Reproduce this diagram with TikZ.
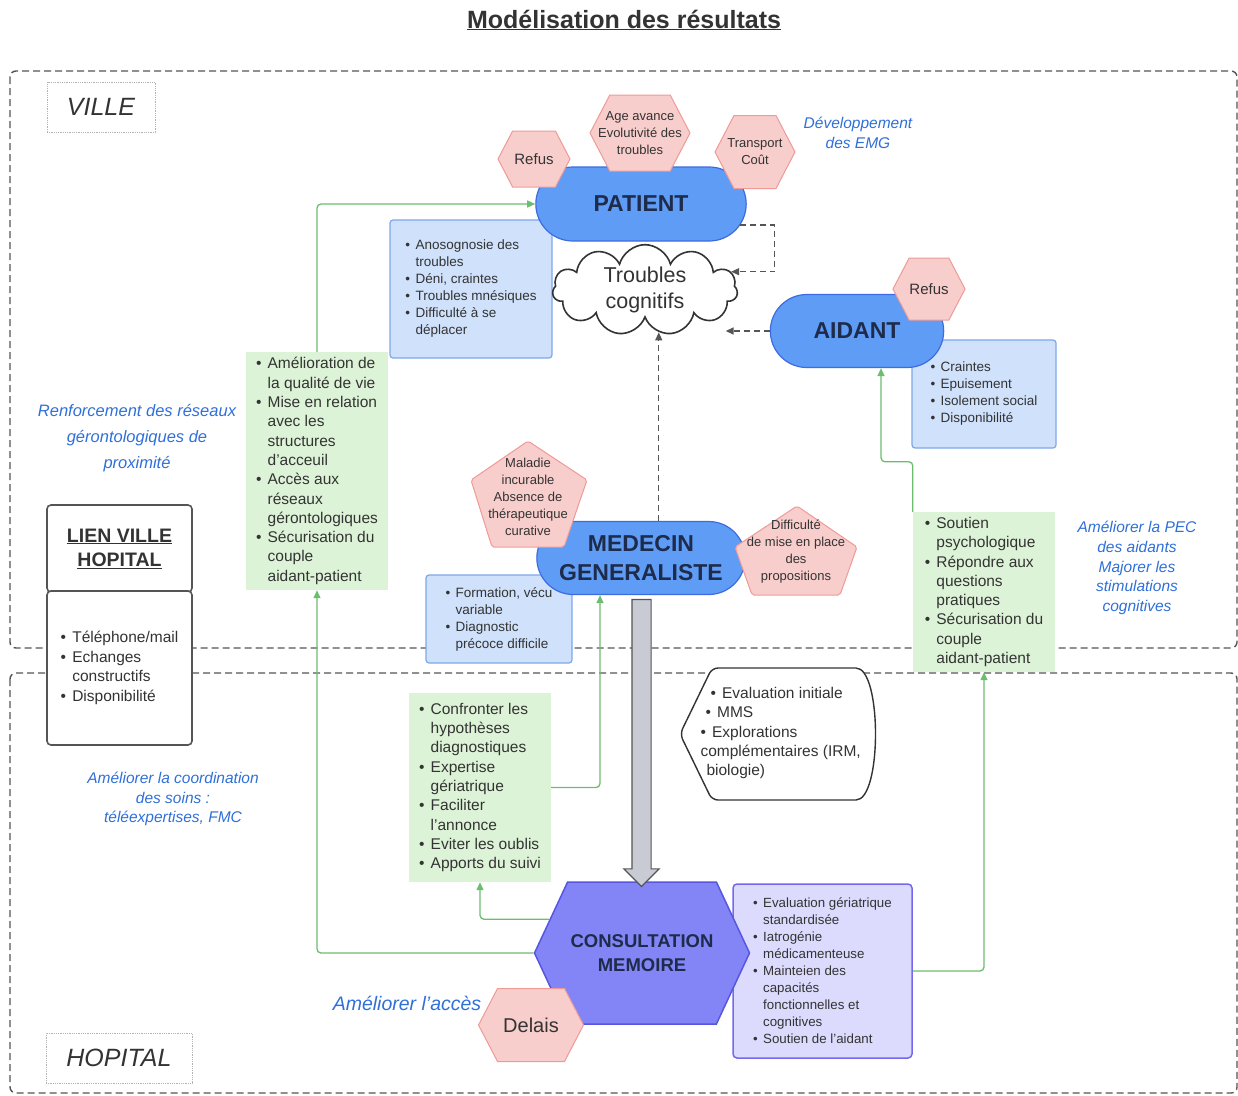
\documentclass[tikz,border=0pt]{standalone}
\usepackage{fontspec}
\setmainfont{Liberation Sans}
\usepackage{tikz}
\usetikzlibrary{arrows.meta,calc,shapes.misc,shapes.symbols,shapes.arrows}
\usepackage{xcolor}

\definecolor{ink}{HTML}{333333}
\definecolor{navy}{HTML}{1E2B4A}
\definecolor{frame}{HTML}{555555}
\definecolor{pinkfill}{HTML}{F8CECC}
\definecolor{pinkline}{HTML}{EE9A97}
\definecolor{actorfill}{HTML}{5E9CF6}
\definecolor{actorline}{HTML}{3E6BE0}
\definecolor{boxblue}{HTML}{CFE1FB}
\definecolor{boxblueline}{HTML}{7DA7E8}
\definecolor{greenfill}{HTML}{DDF3D7}
\definecolor{greenline}{HTML}{6CBD6F}
\definecolor{hexpurple}{HTML}{8385F6}
\definecolor{hexpurpleline}{HTML}{5656E0}
\definecolor{purplefill}{HTML}{DCDBFD}
\definecolor{purpleline}{HTML}{7468EE}
\definecolor{noteblue}{HTML}{2F6FD8}
\definecolor{arrowgray}{HTML}{C8CAD4}

\newcommand{\itm}{\makebox[0.75em][l]{\textbullet}}
\newcommand{\cnt}{\hspace*{0.75em}}

\begin{document}
\begin{tikzpicture}[x=1pt,y=-1pt,>={Triangle[length=8pt,width=7pt]},
  font=\fontsize{13.5}{17}\selectfont,every node/.style={text=ink},
  zone/.style={draw=frame,line width=1.4pt,dash pattern=on 7pt off 4pt,rounded corners=6pt},
  tag/.style={draw=gray!60,densely dotted,line width=0.8pt,minimum height=50pt,font=\fontsize{25}{30}\selectfont\itshape},
  actor/.style={rounded rectangle,draw=actorline,fill=actorfill,line width=1.2pt,text=navy,font=\fontsize{23}{29}\selectfont\bfseries,align=center},
  hexa/.style={signal,signal to=east and west,signal pointer angle=125,draw=pinkline,fill=pinkfill,line width=1pt,inner sep=0pt},
  pent/.style={draw=pinkline,fill=pinkfill,line width=1pt,rounded corners=2pt},
  small/.style={align=center,font=\fontsize{13}{17}\selectfont},
  bluebox/.style={draw=boxblueline,fill=boxblue,line width=1.2pt,rounded corners=3pt,align=left},
  greenbox/.style={fill=greenfill,align=left,font=\fontsize{15.5}{19.3}\selectfont},
  purplebox/.style={draw=purpleline,fill=purplefill,line width=1.5pt,rounded corners=4pt,align=left,font=\fontsize{13.3}{17}\selectfont},
  lien/.style={draw=frame,line width=1.6pt,rounded corners=4pt,fill=white,minimum width=145pt},
  note/.style={text=noteblue,align=center,font=\fontsize{15.5}{19.6}\selectfont\itshape},
  greenarr/.style={->,draw=greenline,line width=1.3pt,rounded corners=4pt},
  dasharr/.style={->,draw=frame,line width=1.4pt,dash pattern=on 6pt off 4pt},
  blockarr/.style={single arrow,draw=frame,fill=arrowgray,line width=1.2pt,inner xsep=0pt,inner ysep=9pt,single arrow head extend=8pt}]
\useasboundingbox (0,0) rectangle (1238,1095);

% title and zones
\node[font=\fontsize{25}{30}\selectfont\bfseries] (title) at (624,20) {\underline{Modélisation des résultats}};
\draw[zone] (10,71) rectangle (1237,648);
\draw[zone] (10,673) rectangle (1237,1093);
\node[tag,minimum width=108pt] (ville) at (101,107) {VILLE};
\node[tag,minimum width=146pt] (hopital) at (119,1058) {HOPITAL};

% blue italic notes
\node[note] (emg) at (858,133) {Développement\\des EMG};
\node[note,font=\fontsize{16.5}{26}\selectfont\itshape] (renfo) at (137,438) {Renforcement des réseaux\\gérontologiques de\\proximité};
\node[note] (pec) at (1137,568) {Améliorer la PEC\\des aidants\\Majorer les\\stimulations\\cognitives};
\node[note] (coord) at (173,799) {Améliorer la coordination\\des soins :\\téléexpertises, FMC};
\node[note,font=\fontsize{19.5}{24}\selectfont\itshape] (acces) at (407,1003) {Améliorer l'accès};

% lien ville hopital
\node[lien,minimum height=87pt,align=center,font=\fontsize{19.5}{24}\selectfont\bfseries] (lientop) at (119.5,548.5) {\underline{LIEN VILLE}\\\underline{HOPITAL}};
\node[lien,minimum height=154pt,align=left,font=\fontsize{15.5}{19.5}\selectfont] (lienlist) at (119.5,668) {\itm Téléphone/mail\\\itm Echanges\\\cnt constructifs\\\itm Disponibilité};

% boxes
\node[bluebox,minimum width=162pt,minimum height=138pt] (patbox) at (471,289) {\itm Anosognosie des\\\cnt troubles\\\itm Déni, craintes\\\itm Troubles mnésiques\\\itm Difficulté à se\\\cnt déplacer};
\node[bluebox,minimum width=144pt,minimum height=108pt] (aidbox) at (984,394) {\itm Craintes\\\itm Epuisement\\\itm Isolement social\\\itm Disponibilité};
\node[bluebox,minimum width=146pt,minimum height=88pt] (medbox) at (499,619) {\itm Formation, vécu\\\cnt variable\\\itm Diagnostic\\\cnt précoce difficile};
\node[greenbox,minimum width=142pt,minimum height=238pt] (gl) at (317,471) {\itm Amélioration de\\\cnt la qualité de vie\\\itm Mise en relation\\\cnt avec les\\\cnt structures\\\cnt d'acceuil\\\itm Accès aux\\\cnt réseaux\\\cnt gérontologiques\\\itm Sécurisation du\\\cnt couple\\\cnt aidant-patient};
\node[greenbox,minimum width=142pt,minimum height=189pt] (gm) at (480,787.5) {\itm Confronter les\\\cnt hypothèses\\\cnt diagnostiques\\\itm Expertise\\\cnt gériatrique\\\itm Faciliter\\\cnt l'annonce\\\itm Eviter les oublis\\\itm Apports du suivi};
\node[greenbox,minimum width=142pt,minimum height=160pt] (gr) at (984,592) {\itm Soutien\\\cnt psychologique\\\itm Répondre aux\\\cnt questions\\\cnt pratiques\\\itm Sécurisation du\\\cnt couple\\\cnt aidant-patient};
\node[purplebox,minimum width=179pt,minimum height=174pt] (pb) at (822.5,971) {\itm Evaluation gériatrique\\\cnt standardisée\\\itm Iatrogénie\\\cnt médicamenteuse\\\itm Mainteien des\\\cnt capacités\\\cnt fonctionnelles et\\\cnt cognitives\\\itm Soutien de l'aidant};

% actors
\node[actor,minimum width=217pt,minimum height=74pt] (patient) at (641,204) {PATIENT};
\node[actor,minimum width=180pt,minimum height=73pt] (aidant) at (857,331) {AIDANT};
\node[actor,minimum width=215pt,minimum height=73pt] (medecin) at (641,558) {MEDECIN\\GENERALISTE};
\node[cloud,cloud puffs=11,aspect=2,draw=ink,line width=1.6pt,fill=white,inner sep=0pt,minimum width=185pt,minimum height=90pt,align=center,font=\fontsize{21.5}{26}\selectfont] (cloud) at (645,290) {Troubles\\cognitifs};
\node[signal,signal to=east and west,signal pointer angle=130,draw=hexpurpleline,fill=hexpurple,line width=1.5pt,inner sep=0pt,minimum width=215pt,minimum height=142pt] (cons) at (642,953) {};
\node[text=navy,align=center,font=\fontsize{18.5}{24}\selectfont\bfseries] (constxt) at (cons) {CONSULTATION\\MEMOIRE};

% obstacles
\node[hexa,minimum width=72pt,minimum height=56pt] (refus) at (534,159) {};
\node[font=\fontsize{15}{18}\selectfont] (refustxt) at (refus) {Refus};
\node[hexa,minimum width=100pt,minimum height=76pt] (age) at (640,133) {};
\node[small] (agetxt) at (age) {Age avance\\Evolutivité des\\troubles};
\node[hexa,minimum width=80pt,minimum height=73pt] (transp) at (755,152) {};
\node[small] (transptxt) at (transp) {Transport\\Coût};
\node[hexa,minimum width=72pt,minimum height=62pt] (refusaid) at (929,289) {};
\node[font=\fontsize{15}{18}\selectfont] (refusaidtxt) at (refusaid) {Refus};
\node[hexa,minimum width=105pt,minimum height=73pt] (delais) at (531,1025) {};
\node[font=\fontsize{20}{24}\selectfont] (delaistxt) at (delais) {Delais};
\draw[pent] (528,441) -- (587,480) -- (564,547) -- (492,547) -- (471,480) -- cycle;
\node[small] (incurable) at (528,497) {Maladie\\incurable\\Absence de\\thérapeutique\\curative};
\draw[pent] (797,506) -- (857,547) -- (840,595) -- (752,595) -- (735,547) -- cycle;
\node[small] (difficulte) at (796,552) {Difficulté\\de mise en place\\des\\propositions};

% first assessment
\draw[draw=ink,line width=1.4pt,fill=white,rounded corners=6pt] (680,734) -- (712,668) -- (850,668) .. controls (882,668) and (882,800) .. (850,800) -- (712,800) -- cycle;
\node[anchor=west,align=left,font=\fontsize{15.5}{19.3}\selectfont] (evaltxt) at (697,733) {\hspace*{10pt}\itm Evaluation initiale\\\hspace*{5pt}\itm MMS\\\itm Explorations\\complémentaires (IRM,\\\hspace*{6pt}biologie)};

% links
\draw[dasharr] (patient.-12) -| ([xshift=28pt]patient.east |- cloud.12) -- (cloud.12);
\draw[dasharr] (aidant.west) -- (aidant.west -| cloud.-15);
\draw[dasharr] (medecin.north -| cloud.-72) -- (cloud.-72);
\draw[greenarr] (gl.north) |- (patient.west);
\draw[greenarr] (cons.west) -| (gl.south);
\draw[greenarr] (cons.160) -| (gm.south);
\draw[greenarr] (gm.east) -| ([xshift=-41pt]medecin.south);
\draw[greenarr] (pb.east) -| (gr.south);
\draw[greenarr] (gr.north west) -- ++(0,-50) -| ([xshift=24pt]aidant.south);
\node[blockarr,rotate=-90,minimum height=287pt] (flow) at ($(medecin.south)!0.5!(cons.north)$) {};
\end{tikzpicture}
\end{document}
